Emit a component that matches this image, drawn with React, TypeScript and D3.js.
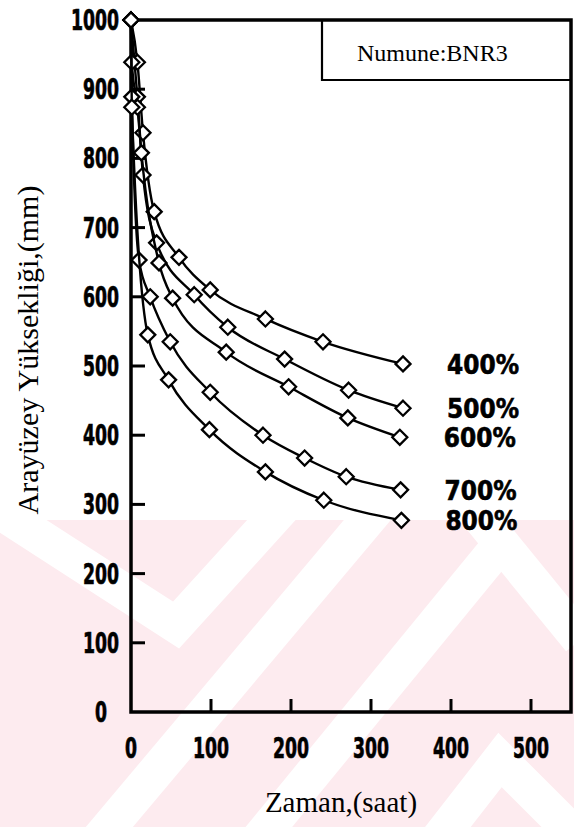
import React from "react";
import * as d3 from "d3";

// ---- data ----
const xTicks = [0, 100, 200, 300, 400, 500];
const yTicks = [0, 100, 200, 300, 400, 500, 600, 700, 800, 900, 1000];
const seriesNames = ["400%", "500%", "600%", "700%", "800%"];

const t400 = [0, 8, 15, 29, 60, 99, 168, 240, 340];
const h400 = [1000, 939, 837, 723, 657, 610, 568, 535, 503];

const t500 = [0, 8, 15, 32, 79, 121, 192, 272, 340];
const h500 = [1000, 889, 776, 678, 603, 556, 510, 465, 439];

const t600 = [0, 1, 8, 13, 35, 52, 119, 197, 271, 336];
const h600 = [1000, 939, 874, 808, 649, 598, 520, 470, 425, 397];

const t700 = [0, 1, 10, 24, 49, 99, 165, 217, 269, 337];
const h700 = [1000, 889, 653, 600, 535, 462, 400, 367, 340, 321];

const t800 = [0, 1, 21, 47, 98, 168, 241, 338];
const h800 = [1000, 874, 545, 480, 408, 347, 306, 277];

const sampleLabel = "Numune:BNR3";
const xTitle = "Zaman,(saat)";
const yTitle = "Arayüzey Yüksekliği,(mm)";

const W = 574;
const H = 827;

export default function App() {
  const x = d3.scaleLinear().domain([0, 550]).range([131, 571]);
  const y = d3.scaleLinear().domain([0, 1000]).range([712, 20]);

  const series = [
    { name: seriesNames[0], t: t400, h: h400 },
    { name: seriesNames[1], t: t500, h: h500 },
    { name: seriesNames[2], t: t600, h: h600 },
    { name: seriesNames[3], t: t700, h: h700 },
    { name: seriesNames[4], t: t800, h: h800 },
  ];

  const line = d3
    .line<[number, number]>()
    .x((d) => x(d[0]))
    .y((d) => y(d[1]))
    .curve(d3.curveMonotoneX);

  const diamond = (cx: number, cy: number, r: number) =>
    `M${cx},${cy - r}L${cx + r},${cy}L${cx},${cy + r}L${cx - r},${cy}Z`;

  const numStyle: React.CSSProperties = {
    fontFamily: "'DejaVu Sans Condensed', 'DejaVu Sans', sans-serif",
    fontWeight: "bold",
  };
  const serifStyle: React.CSSProperties = {
    fontFamily: "'Liberation Serif', 'Times New Roman', Tinos, 'DejaVu Serif', serif",
  };
  const charW = 12;

  return (
    <svg
      width={W}
      height={H}
      viewBox={`0 0 ${W} ${H}`}
      style={{ position: "absolute", left: 0, top: 0, background: "#ffffff" }}
    >
      {/* watermark background */}
      <rect x={0} y={520} width={W} height={H - 520} fill="#fdebef" />
      <g stroke="#ffffff" strokeWidth={36} fill="none" strokeLinejoin="miter">
        <polyline points="-10,505 176,625 285,505" />
        <line x1={90} y1={850} x2={380} y2={505} />
        <line x1={250} y1={850} x2={500} y2={545} />
        <polyline points="470,505 580,640" />
        <polyline points="430,850 500,760 590,850" />
      </g>

      {/* frame */}
      <path
        d={`M${x(0)},${y(0)}L${x(550)},${y(0)}L${x(550)},${y(1000)}L${x(0)},${y(1000)}Z`}
        fill="none"
        stroke="#000"
        strokeWidth={3.5}
      />

      {/* sample box */}
      <path
        d={`M${x(550)},80L322,80L322,${y(1000)}`}
        fill="none"
        stroke="#000"
        strokeWidth={2.2}
      />
      <text x={357} y={61} style={serifStyle} fontSize={24} fill="#000">
        {sampleLabel}
      </text>

      {/* y ticks */}
      {yTicks
        .filter((v) => v > 0 && v < 1000)
        .map((v) => (
          <line key={"yt" + v} x1={x(0)} x2={x(0) + 14} y1={y(v)} y2={y(v)} stroke="#000" strokeWidth={3} />
        ))}
      {/* x ticks */}
      {xTicks
        .filter((v) => v > 0)
        .map((v) => (
          <line key={"xt" + v} x1={x(v)} x2={x(v)} y1={y(0)} y2={y(0) - 13} stroke="#000" strokeWidth={3} />
        ))}

      {/* y tick labels */}
      {yTicks.map((v) => {
        const s = String(v);
        const isZero = v === 0;
        return (
          <text
            key={"yl" + v}
            x={isZero ? 101 : 119}
            y={y(v) + 10}
            textAnchor={isZero ? "middle" : "end"}
            style={numStyle}
            fontSize={29}
            textLength={s.length * charW}
            lengthAdjust="spacingAndGlyphs"
            fill="#000"
            stroke="#000"
            strokeWidth={0.7}
          >
            {s}
          </text>
        );
      })}

      {/* x tick labels */}
      {xTicks.map((v) => {
        const s = String(v);
        return (
          <text
            key={"xl" + v}
            x={x(v)}
            y={758}
            textAnchor="middle"
            style={numStyle}
            fontSize={29}
            textLength={s.length * charW}
            lengthAdjust="spacingAndGlyphs"
            fill="#000"
            stroke="#000"
            strokeWidth={0.7}
          >
            {s}
          </text>
        );
      })}

      {/* series */}
      {series.map((s) => {
        const pts: [number, number][] = s.t.map((t, i) => [t, s.h[i]]);
        return (
          <g key={s.name}>
            <path d={line(pts) || ""} fill="none" stroke="#000" strokeWidth={2.4} />
            {pts.map((p, i) => (
              <path
                key={i}
                d={diamond(x(p[0]), y(p[1]), 7.5)}
                fill="#fff"
                stroke="#000"
                strokeWidth={2.3}
              />
            ))}
          </g>
        );
      })}

      {/* series labels */}
      {series.map((s) => {
        const lt = s.t[s.t.length - 1];
        const lh = s.h[s.h.length - 1];
        return (
          <text
            key={"lab" + s.name}
            x={x(lt) + 44}
            y={y(lh) + 10}
            style={numStyle}
            fontSize={27}
            textLength={72}
            lengthAdjust="spacingAndGlyphs"
            fill="#000"
            stroke="#000"
            strokeWidth={0.6}
          >
            {s.name}
          </text>
        );
      })}

      {/* axis titles */}
      <text x={341} y={812} textAnchor="middle" style={serifStyle} fontSize={29} fill="#000">
        {xTitle}
      </text>
      <text
        transform="translate(38,350) rotate(-90)"
        textAnchor="middle"
        style={serifStyle}
        fontSize={30}
        fill="#000"
      >
        {yTitle}
      </text>
    </svg>
  );
}
